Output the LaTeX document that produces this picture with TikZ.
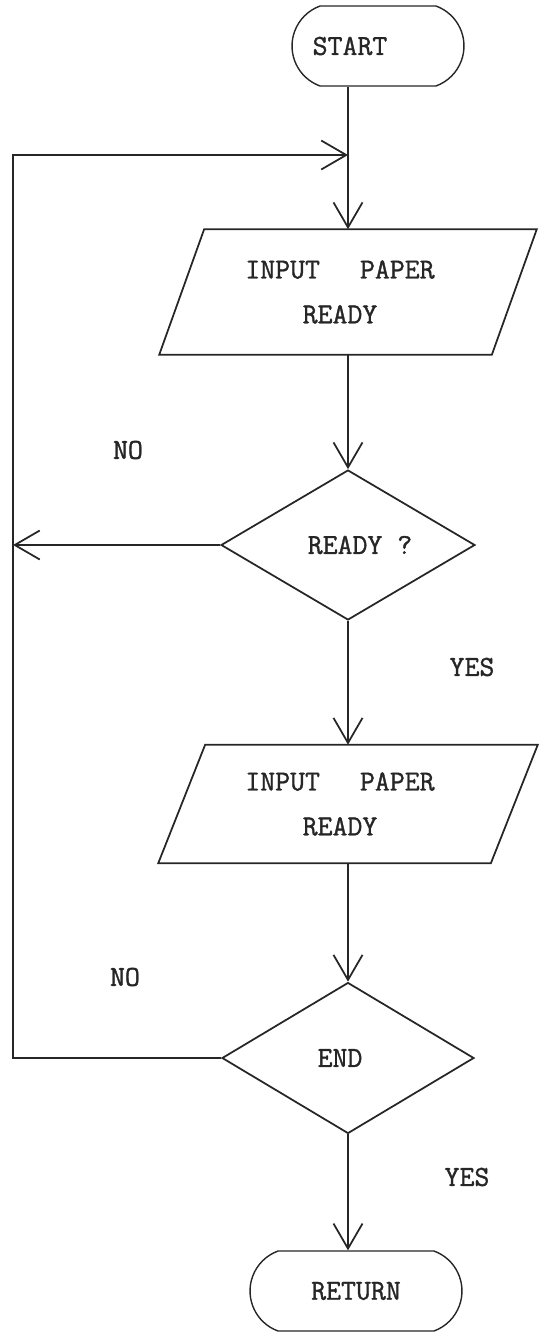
\documentclass[tikz,border=0pt]{standalone}
\usepackage{fontspec}
\newfontfamily\tw{Latin Modern Mono}[FakeBold=1.2,AutoFakeBold=1.2]
\usetikzlibrary{arrows.meta,shapes.geometric,shapes.misc}

\begin{document}
\begin{tikzpicture}[x=0.02cm,y=-0.02cm,
  ink/.style={black!85},
  line/.style={ink,line width=1pt},
  arr/.style={line,-{Straight Barb[length=0.5cm,width=0.58cm]}},
  txt/.style={ink,font={\tw\bfseries\fontsize{16.5}{25.5}\selectfont}},
  lighttxt/.style={ink,font={\tw\fontsize{16.5}{25.5}\selectfont}},
  term/.style={txt,draw,line width=0.8pt,rounded rectangle,rounded rectangle arc length=140,
    minimum height=1.6cm,inner sep=0pt},
  iobox/.style={txt,align=center,minimum width=6.64cm,inner sep=0pt},
  decision/.style={txt,draw,line width=1pt,diamond,inner sep=0pt}]

\useasboundingbox (0,0) rectangle (540,1333);

% terminals (text sits left of the box centre, over the flow line)
\node[term,minimum width=3.44cm] (start) at (378,46) {START\hspace*{1.12cm}};
\node[term,lighttxt,minimum width=4.24cm] (ret) at (356,1291) {RETURN};

% input blocks (parallelograms drawn around their text boxes)
\node[iobox,minimum height=2.5cm] (in1) at (348,292)
  {INPUT\hspace{0.8cm}PAPER\hspace*{0.32cm}\\READY\hspace*{0.32cm}};
\draw[line] ([xshift=0.45cm]in1.north west) -- ([xshift=0.45cm]in1.north east)
  -- ([xshift=-0.45cm]in1.south east) -- ([xshift=-0.45cm]in1.south west) -- cycle;

\node[iobox,minimum height=2.36cm] (in2) at (348,804)
  {INPUT\hspace{0.8cm}PAPER\hspace*{0.32cm}\\READY\hspace*{0.32cm}};
\draw[line] ([xshift=0.47cm]in2.north west) -- ([xshift=0.47cm]in2.north east)
  -- ([xshift=-0.47cm]in2.south east) -- ([xshift=-0.47cm]in2.south west) -- cycle;

% decisions
\node[decision,minimum width=5.08cm,minimum height=3.0cm] (ready) at (348,545)
  {\hspace*{0.48cm}READY ?};
\node[decision,minimum width=5.04cm,minimum height=3.02cm] (endq) at (348,1058)
  {END\hspace*{0.32cm}};

% loop-back route
\coordinate (cornerB) at (13,1058);
\coordinate (cornerT) at (13,155);
\coordinate (join) at (348,155);

% flow
\draw[arr] (start.south -| in1.north) -- (in1.north);
\draw[arr] (in1.south) -- (ready.north);
\draw[arr] (ready.south) -- (in2.north);
\draw[arr] (in2.south) -- (endq.north);
\draw[arr] (endq.south) -- (endq.south |- ret.north);
\draw[arr] (ready.west) -- (ready.west -| cornerT);
\draw[arr] (endq.west) -- (cornerB) -- (cornerT) -- (join);

% branch labels
\node[txt] (no1) at (128,450) {NO};
\node[txt] (yes1) at (472,667) {YES};
\node[txt] (no2) at (125,977) {NO};
\node[txt] (yes2) at (467,1177) {YES};
\end{tikzpicture}
\end{document}
